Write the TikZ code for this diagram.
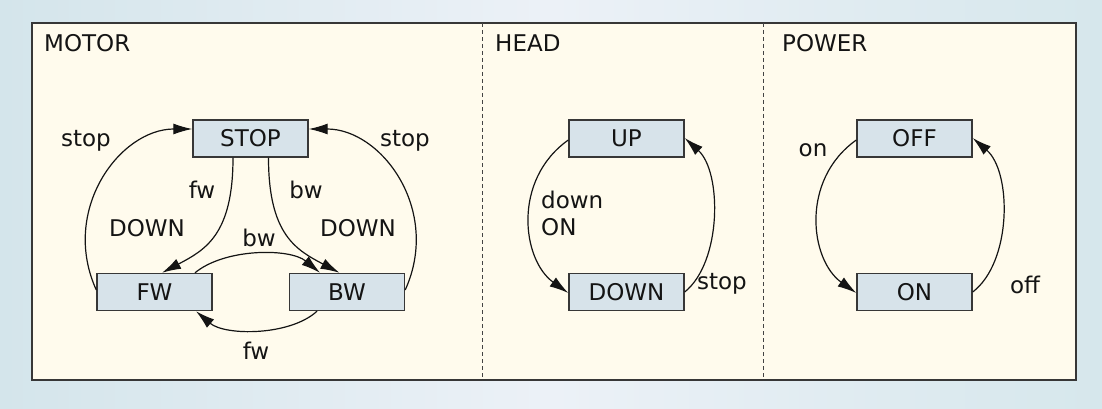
\documentclass[tikz,border=0pt]{standalone}
\usepackage{fontspec}
\setmainfont{DejaVu Sans}
\usetikzlibrary{arrows.meta}
\definecolor{bgL}{RGB}{212,229,235}
\definecolor{bgM}{RGB}{236,241,247}
\definecolor{bgR}{RGB}{214,231,236}
\definecolor{cream}{RGB}{255,251,237}
\definecolor{statefill}{RGB}{215,227,234}
\definecolor{ink}{RGB}{20,20,20}
\tikzset{
  state/.style={draw=ink!85, line width=1.4pt, fill=statefill, minimum width=115pt, minimum height=37pt, inner sep=0pt, text=ink, font=\fontsize{23}{27}\selectfont},
  lbl/.style={text=ink, inner sep=0pt, font=\fontsize{23}{27}\selectfont},
  ttl/.style={text=ink, inner sep=0pt, anchor=base west, font=\fontsize{23}{27}\selectfont},
  tr/.style={draw=ink, line width=1.2pt, -{Latex[length=19pt,width=11pt]}},
  divider/.style={draw=ink!80, line width=1pt, dash pattern=on 4pt off 3pt}
}
\begin{document}
\begin{tikzpicture}[x=1pt,y=1pt]
\useasboundingbox (0,0) rectangle (1102,-409);
\shade[left color=bgL, right color=bgR, middle color=bgM] (0,0) rectangle (1102,-409);
\draw[fill=cream, draw=ink!85, line width=1.5pt] (32,-23) rectangle (1076,-380);
\coordinate (d1t) at (482,-23); \coordinate (d1b) at (482,-380);
\coordinate (d2t) at (763,-23); \coordinate (d2b) at (763,-380);
\draw[divider] (d1t) -- (d1b);
\draw[divider] (d2t) -- (d2b);

\node[ttl] (tmotor) at (44,-52) {MOTOR};
\node[ttl] (thead) at (495,-52) {HEAD};
\node[ttl] (tpower) at (782,-52) {POWER};

% MOTOR
\node[state] (stop) at (250.5,-138.5) {STOP};
\node[state] (fw) at (154.5,-292) {FW};
\node[state] (bw) at (347,-292) {BW};

\draw[tr] ([yshift=2pt]fw.west) .. controls (60,-210) and (120,-129) .. ([yshift=9.5pt]stop.west);
\draw[tr] ([yshift=2pt]bw.east) .. controls (441.5,-210) and (381.5,-129) .. ([yshift=9.5pt]stop.east);
\draw[tr] ([xshift=-17.5pt]stop.south) .. controls (233,-235) and (205,-250) .. ([xshift=7.5pt]fw.north);
\draw[tr] ([xshift=18pt]stop.south) .. controls (268.5,-235) and (296.5,-250) .. ([xshift=-7.5pt]bw.north);
\draw[tr] ([xshift=40.5pt]fw.north) .. controls (225,-248) and (290,-248) .. ([xshift=-27pt]bw.north);
\draw[tr] ([xshift=-30pt]bw.south) .. controls (290,-336) and (225,-336) .. ([xshift=41.5pt]fw.south);

\node[lbl] (l1) at (86,-141) {stop};
\node[lbl] (l2) at (405,-141) {stop};
\node[lbl] (l3) at (202,-190) {fw};
\node[lbl] (l4) at (306,-190) {bw};
\node[lbl] (l5) at (147,-228) {DOWN};
\node[lbl] (l6) at (358,-228) {DOWN};
\node[lbl] (l7) at (259,-238) {bw};
\node[lbl] (l8) at (256,-351) {fw};

% HEAD
\node[state] (up) at (626.5,-138.5) {UP};
\node[state] (down) at (626.5,-292) {DOWN};
\draw[tr] ([yshift=-1.5pt]up.west) .. controls (512,-180) and (522,-260) .. ([yshift=-1pt]down.west);
\draw[tr] (down.east) .. controls (722,-262) and (722,-172) .. ([yshift=0.5pt]up.east);
\node[lbl, align=left, anchor=west] (l9) at (541,-213) {down\\ON};
\node[lbl] (l10) at (722,-284) {stop};

% POWER
\node[state] (off) at (914.5,-138.5) {OFF};
\node[state] (on) at (914.5,-292) {ON};
\draw[tr] ([yshift=-1.5pt]off.west) .. controls (800,-180) and (810,-260) .. ([yshift=-1pt]on.west);
\draw[tr] (on.east) .. controls (1012,-262) and (1012,-172) .. ([yshift=0.5pt]off.east);
\node[lbl] (l11) at (813,-150) {on};
\node[lbl] (l12) at (1025,-285) {off};
\end{tikzpicture}
\end{document}
